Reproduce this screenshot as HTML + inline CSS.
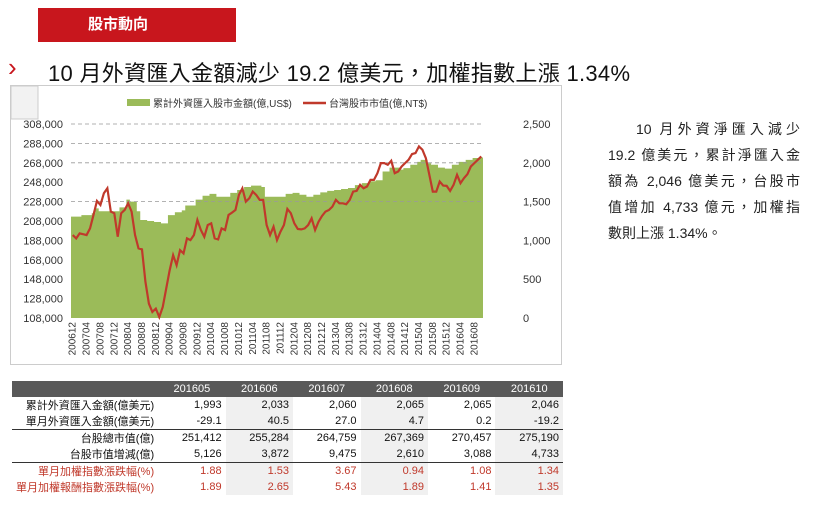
<!DOCTYPE html>
<html><head><meta charset="utf-8">
<style>
body{margin:0;width:820px;height:506px;background:#fff;font-family:"Liberation Sans","Noto Sans CJK TC",sans-serif;position:relative;overflow:hidden}
.abs{position:absolute}
#tag{left:38px;top:8px;width:198px;height:34px;background:#c8161d;color:#fff;font-size:15px;line-height:34px;text-indent:50px;font-weight:bold}
#title{left:48px;top:56px;font-size:22px;color:#111;white-space:nowrap;letter-spacing:0.3px}
#chev{left:8px;top:52px;font-size:26px;color:#c8161d}
#desc{left:608px;top:116px;width:192px;font-size:14px;line-height:26px;color:#222}
#desc div{text-align:justify;text-align-last:justify;white-space:nowrap;height:26px}
table{border-collapse:collapse;font-size:11px;color:#111}
td,th{height:15px;padding:0 4px;text-align:right;white-space:nowrap}
th{background:#595959;color:#fff;font-weight:normal;text-align:center;height:16px}
.g{background:#f0f0f0}
.r{color:#c0392b}
.bl td{border-bottom:1px solid #333}
</style></head><body>
<div class="abs" id="tag">股市動向</div>
<div class="abs" id="chev">›</div>
<div class="abs" id="title">10 月外資匯入金額減少 19.2 億美元，加權指數上漲 1.34%</div>
<svg class="abs" style="left:0;top:0" width="820" height="380" id="chart">
<rect x="10.5" y="85.5" width="551" height="279" fill="#fff" stroke="#ccc"/>
<rect x="11" y="86" width="27" height="33" fill="#f2f2f2" stroke="#ccc"/>
</svg>
<div class="abs" id="desc">
<div style="padding-left:28px">10 月外資淨匯入減少</div>
<div>19.2 億美元，累計淨匯入金</div>
<div>額為 2,046 億美元，台股市</div>
<div>值增加 4,733 億元，加權指</div>
<div style="text-align:left;text-align-last:left">數則上漲 1.34%。</div>
</div>
<table class="abs" style="left:12px;top:381px;width:551px">
<tr><th style="width:128px"></th><th>201605</th><th>201606</th><th>201607</th><th>201608</th><th>201609</th><th>201610</th></tr>
<tr><td>累計外資匯入金額(億美元)</td><td>1,993</td><td class="g">2,033</td><td>2,060</td><td class="g">2,065</td><td>2,065</td><td class="g">2,046</td></tr>
<tr class="bl"><td>單月外資匯入金額(億美元)</td><td>-29.1</td><td class="g">40.5</td><td>27.0</td><td class="g">4.7</td><td>0.2</td><td class="g">-19.2</td></tr>
<tr><td>台股總市值(億)</td><td>251,412</td><td class="g">255,284</td><td>264,759</td><td class="g">267,369</td><td>270,457</td><td class="g">275,190</td></tr>
<tr class="bl"><td>台股市值增減(億)</td><td>5,126</td><td class="g">3,872</td><td>9,475</td><td class="g">2,610</td><td>3,088</td><td class="g">4,733</td></tr>
<tr class="r"><td>單月加權指數漲跌幅(%)</td><td>1.88</td><td class="g">1.53</td><td>3.67</td><td class="g">0.94</td><td>1.08</td><td class="g">1.34</td></tr>
<tr class="r"><td>單月加權報酬指數漲跌幅(%)</td><td>1.89</td><td class="g">2.65</td><td>5.43</td><td class="g">1.89</td><td>1.41</td><td class="g">1.35</td></tr>
</table>
<script>
const greenKeys=[[0,212.5],[3,214],[6,216],[7,221],[8,218],[12,218],[14,222],[16,230],[17,228],[19,218],[20,209],[22,208],[24,207],[26,205.5],[28,214],[30,217],[32,219],[33,224],[36,230],[38,234],[40,236],[42,233],[44,233],[46,237],[48,240],[50,243],[52,244.5],[55,243],[56,233],[60,233],[62,236],[64,237],[66,235],[68,233],[70,235],[72,237.5],[74,239],[76,240],[78,241],[80,242],[82,245],[84,247],[86,249],[88,250],[90,259],[92,263],[95,261],[96,262.5],[98,266],[100,269],[101,271],[103,267.5],[104,266],[106,263],[108,262],[110,266],[112,269],[114,271],[116,273],[118,273.5]];
const redValues=[1069,1026,1090,1080,1069,1155,1328,1509,1457,1608,1672,1371,1350,1047,1350,1392,1478,1371,1069,897,884,466,185,78,121,13,142,379,616,810,681,875,832,1026,1004,1069,1263,1134,1047,1198,1220,1026,1013,1155,1134,1328,1358,1392,1586,1672,1500,1543,1629,1586,1522,1522,1198,1069,1177,1004,1112,1198,1405,1350,1220,1147,1142,1155,1198,1284,1134,1241,1315,1371,1392,1435,1522,1478,1478,1466,1522,1629,1638,1716,1672,1694,1780,1780,1866,1996,1996,1974,2026,1866,1888,1953,1996,2039,2112,2125,2211,2168,2060,1845,1629,1629,1759,1707,1703,1638,1716,1845,1737,1802,1853,1953,1996,2039,2082];
const leftTicks=[308000,288000,268000,248000,228000,208000,188000,168000,148000,128000,108000];
const rightTicks=[2500,2000,1500,1000,500,0];
const startYear=2006,startMonth=12;
const N=redValues.length;
const svg=document.getElementById('chart');const NS='http://www.w3.org/2000/svg';
const X0=71,X1=483,Y0=124,Y1=318;
const xs=i=>X0+(i+0.5)*(X1-X0)/N;
const yl=v=>Y1-(v-108000)/200000*(Y1-Y0);
const yr=v=>Y1-v/2500*(Y1-Y0);
function mk(t,a){const e=document.createElementNS(NS,t);for(const k in a)e.setAttribute(k,a[k]);svg.appendChild(e);return e;}
const green=[];for(let k=0;k<greenKeys.length;k++){const [i,v]=greenKeys[k];const nx=k+1<greenKeys.length?greenKeys[k+1][0]:N;for(let j=i;j<nx;j++)green[j]=v*1000;}
let d='M'+X0+','+Y1;const bw=(X1-X0)/N;
green.forEach((v,i)=>{const x=X0+i*bw;d+=' L'+x+','+yl(v)+' L'+(x+bw)+','+yl(v);});
d+=' L'+X1+','+Y1+'Z';
let e=mk('path',{d:d,fill:'#9bbb59'});


leftTicks.forEach(t=>{if(t>248000&&t<=308000||t==228000){const g=mk('line',{x1:X0,x2:X1,y1:yl(t),y2:yl(t),stroke:'#999','stroke-dasharray':'4,3','stroke-width':0.8});}
const tx=mk('text',{x:63,y:yl(t)+4,'text-anchor':'end','font-size':11,fill:'#333'});tx.textContent=t.toLocaleString('en-US');

});
rightTicks.forEach(t=>{const tx=mk('text',{x:523,y:yr(t)+4,'font-size':11,fill:'#333'});tx.textContent=t.toLocaleString('en-US');

});
const pts=redValues.map((v,i)=>xs(i)+','+yr(v)).join(' ');
e=mk('polyline',{points:pts,fill:'none',stroke:'#c0392b','stroke-width':2.2});


for(let i=0;i<N;i+=4){let m=startMonth+i,y=startYear+Math.floor((m-1)/12);m=(m-1)%12+1;const lab=y+String(m).padStart(2,'0');const x=xs(i)+3;
const tx=mk('text',{x:x,y:322,'font-size':10,fill:'#333','text-anchor':'end',transform:'rotate(-90 '+x+' 322)'});tx.textContent=lab;

}
e=mk('rect',{x:127,y:99,width:23,height:7,fill:'#9bbb59'});
let t=mk('text',{x:153,y:107,'font-size':10,fill:'#333'});t.textContent='累計外資匯入股市金額(億,US$)';


e=mk('line',{x1:303,x2:326,y1:103,y2:103,stroke:'#c0392b','stroke-width':2.5});
t=mk('text',{x:329,y:107,'font-size':10,fill:'#333'});t.textContent='台灣股市市值(億,NT$)';


</script>
</body></html>
